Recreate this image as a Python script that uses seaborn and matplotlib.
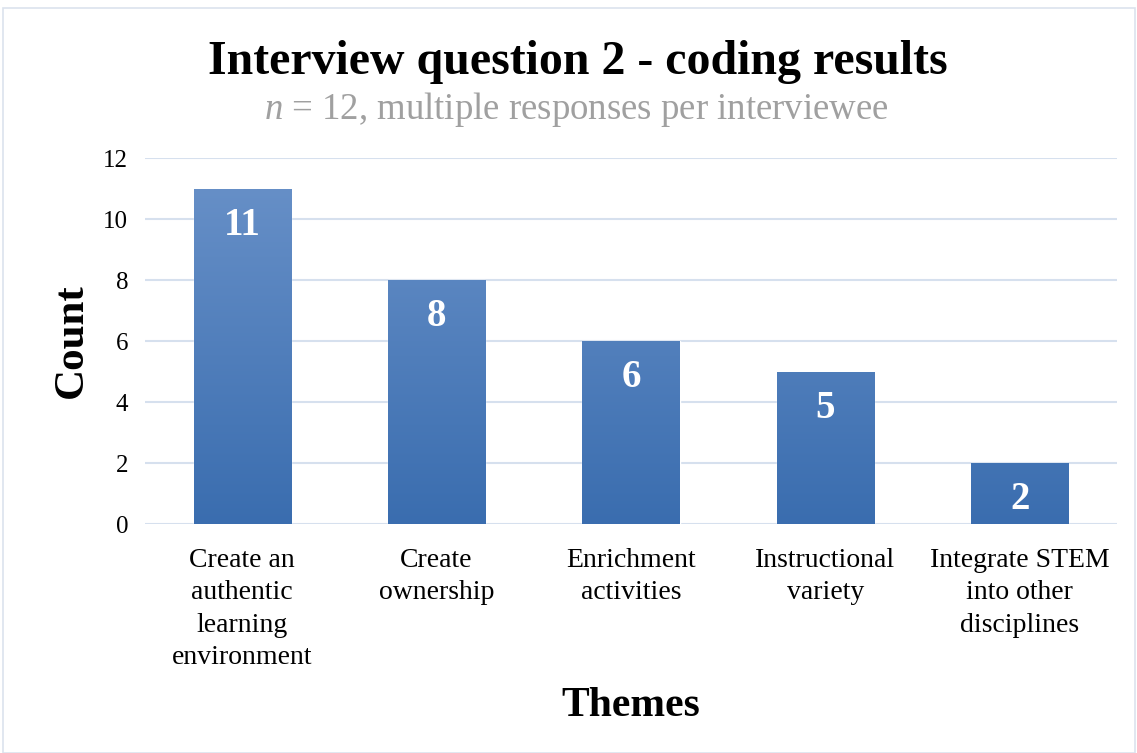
import numpy as np
import pandas as pd
import matplotlib
matplotlib.use("Agg")
import matplotlib.pyplot as plt
from matplotlib.colors import LinearSegmentedColormap
from matplotlib.patches import Rectangle
import seaborn as sns

themes = ["Create an\nauthentic\nlearning\nenvironment", "Create\nownership",
          "Enrichment\nactivities", "Instructional\nvariety",
          "Integrate STEM\ninto other\ndisciplines"]
counts = [11, 8, 6, 5, 2]
y_ticks = [0, 2, 4, 6, 8, 10, 12]

sns.set_style("white")
plt.rcParams['font.family'] = ['Liberation Serif', 'DejaVu Serif']
plt.rcParams['mathtext.fontset'] = 'custom'
plt.rcParams['mathtext.it'] = 'Liberation Serif:italic'
plt.rcParams['mathtext.rm'] = 'Liberation Serif'
plt.rcParams['text.color'] = 'black'
plt.rcParams['axes.labelcolor'] = 'black'
plt.rcParams['xtick.color'] = 'black'
plt.rcParams['ytick.color'] = 'black'

frame = pd.DataFrame({"Themes": themes, "Count": counts})

fig = plt.figure(figsize=(11.37, 7.53), dpi=100)
ax = fig.add_axes([0.1275, 0.304, 0.855, 0.486])

sns.barplot(data=frame, x="Themes", y="Count", color="#4a7ebf", width=0.5,
            saturation=1, ax=ax, zorder=2)

# vertical gradient fill on each bar
grad = LinearSegmentedColormap.from_list("g", ["#3a6daf", "#6a92c9"])
for bar in ax.patches:
    x0, y0 = bar.get_x(), bar.get_y()
    w, h = bar.get_width(), bar.get_height()
    img = ax.imshow(np.linspace(0, 1, 256).reshape(-1, 1), cmap=grad,
                    origin="lower", aspect="auto",
                    extent=[x0, x0 + w, y0, y0 + 12], zorder=3)
    img.set_clip_path(bar)

for i, v in enumerate(counts):
    ax.text(i, v - 1.2, str(v), ha="center", va="center", color="white",
            fontsize=28, fontweight="bold", zorder=4)

ax.set_ylim(0, 12)
ax.set_xlim(-0.5, len(themes) - 0.5)
ax.set_yticks(y_ticks)
ax.yaxis.grid(True, color="#d6e0ee", linewidth=1.5, zorder=0)
ax.set_axisbelow(True)
for s in ax.spines.values():
    s.set_visible(False)
ax.tick_params(axis="y", length=0, labelsize=18, pad=12)
ax.tick_params(axis="x", length=0, labelsize=20, pad=17)
ax.set_xlabel("Themes", fontsize=30, fontweight="bold", labelpad=12)
ax.set_ylabel("Count", fontsize=31, fontweight="bold", labelpad=9)
for lbl in ax.get_xticklabels():
    lbl.set_linespacing(1.4)

fig.text(0.508, 0.918, "Interview question 2 - coding results", ha="center",
         va="center", fontsize=34.5, fontweight="bold")
fig.text(0.507, 0.855, "$\\it{n}$ = 12, multiple responses per interviewee",
         ha="center", va="center", fontsize=26.5, color="#a0a0a0")

fig.patches.append(Rectangle((0.003, 0.0), 0.995, 0.99, transform=fig.transFigure,
                             fill=False, edgecolor="#dbe3ee", linewidth=1.2))

fig.savefig("out.png", dpi=100)
